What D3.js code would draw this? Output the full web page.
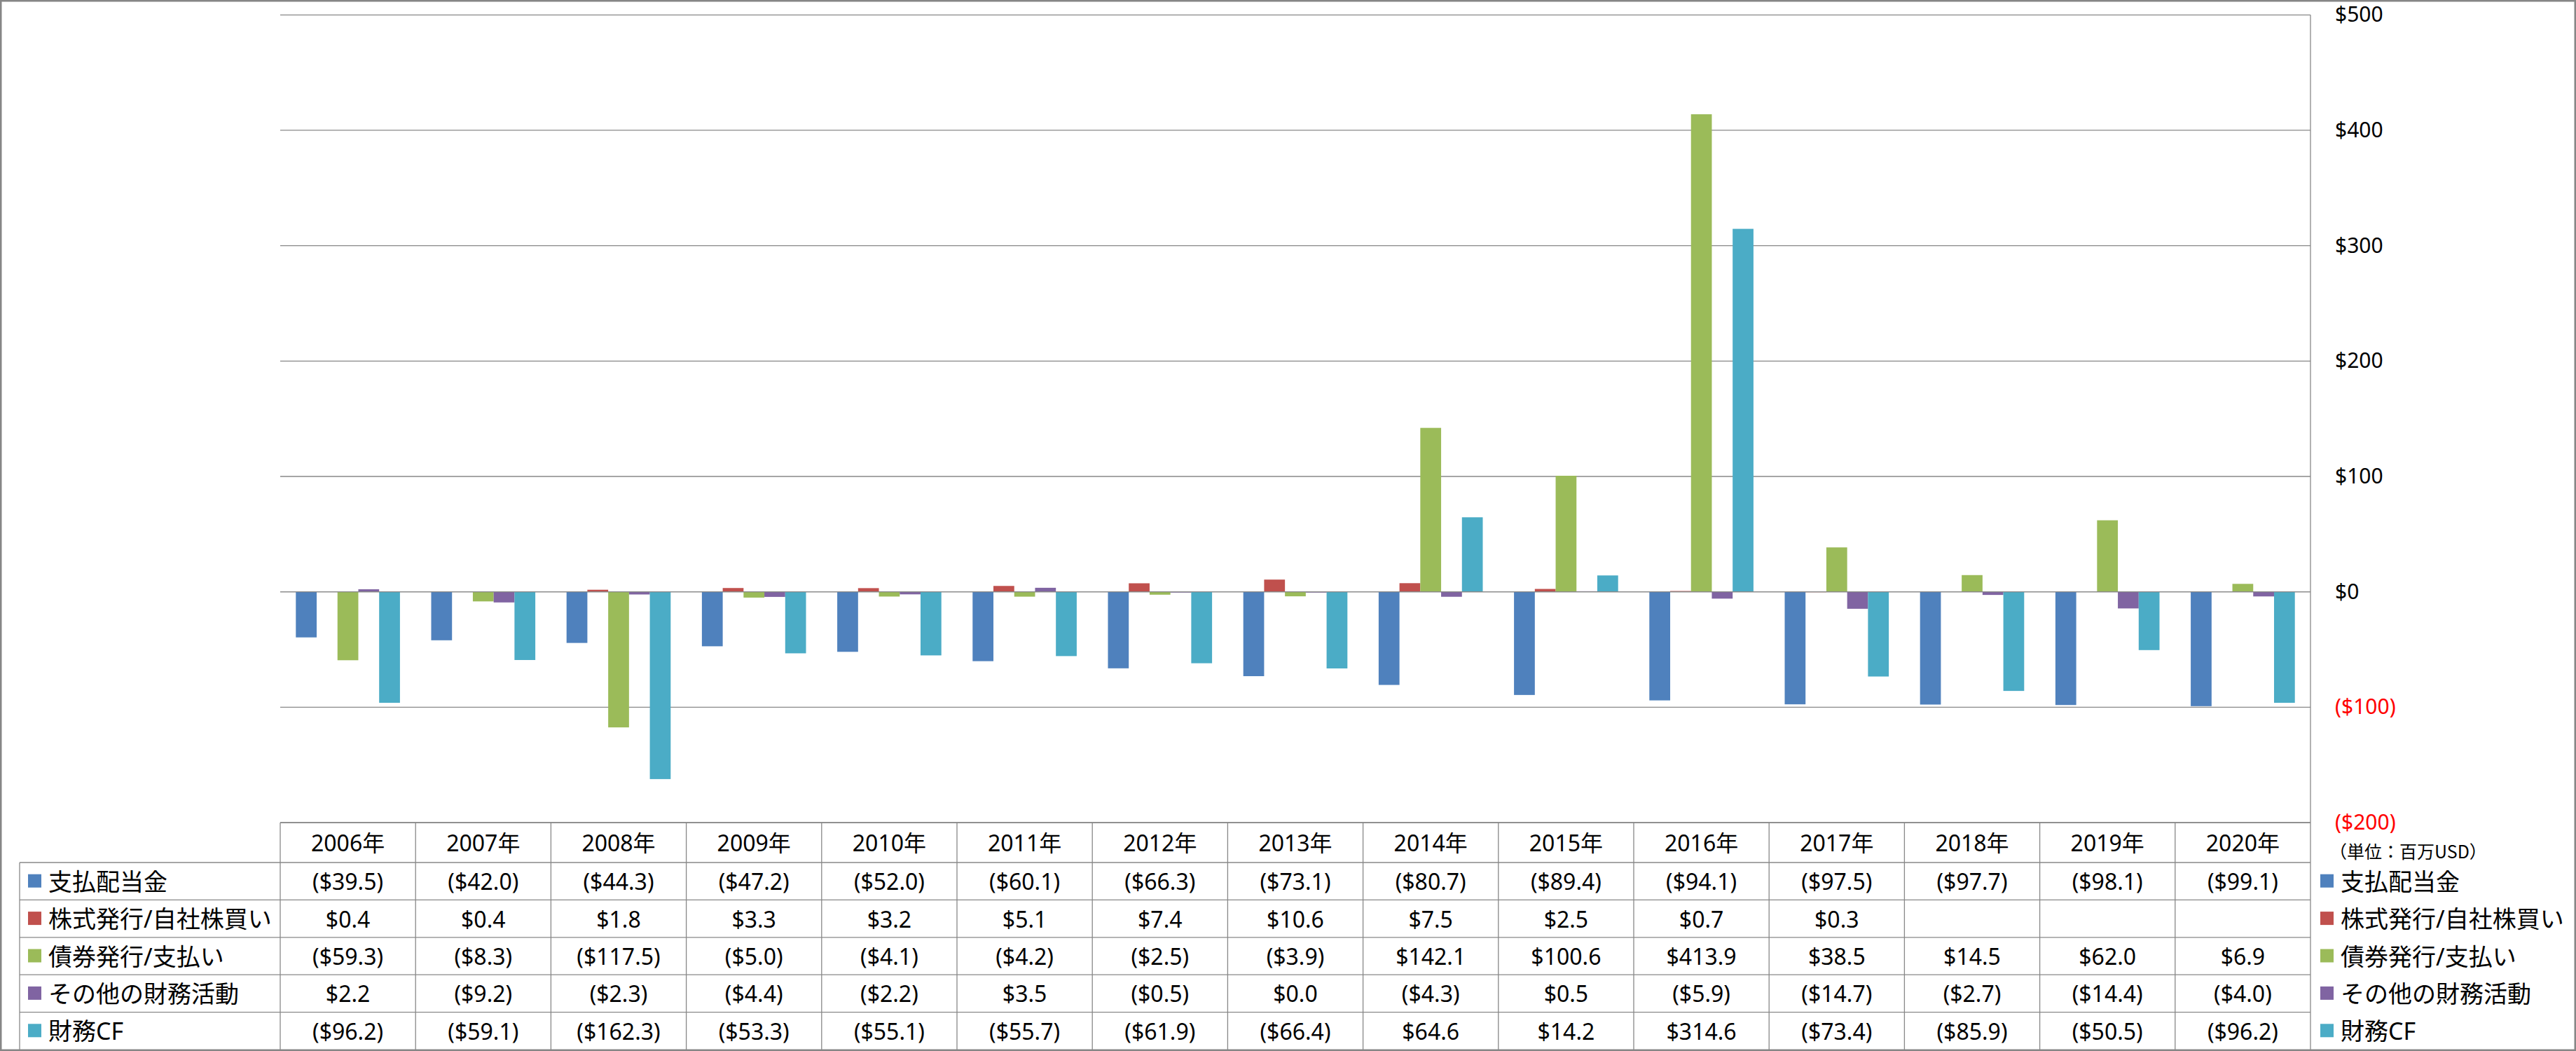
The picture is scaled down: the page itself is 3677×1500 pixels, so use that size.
<!DOCTYPE html>
<html>
<head>
<meta charset="utf-8">
<script src="https://cdn.jsdelivr.net/npm/d3@7"></script>
<style>
  body { margin: 0; background: #fff; }
  text { font-family: "Noto Sans", "Noto Sans CJK JP", sans-serif; }
</style>
</head>
<body>
<script>
const years = ["2006年","2007年","2008年","2009年","2010年","2011年","2012年","2013年","2014年","2015年","2016年","2017年","2018年","2019年","2020年"]
const seriesNames = ["支払配当金","株式発行/自社株買い","債券発行/支払い","その他の財務活動","財務CF"]
const seriesColors = ["#4F81BD","#C0504D","#9BBB59","#8064A2","#4BACC6"]
const dividends = [-39.5,-42.0,-44.3,-47.2,-52.0,-60.1,-66.3,-73.1,-80.7,-89.4,-94.1,-97.5,-97.7,-98.1,-99.1]
const stockIssue = [0.4,0.4,1.8,3.3,3.2,5.1,7.4,10.6,7.5,2.5,0.7,0.3,null,null,null]
const bondIssue = [-59.3,-8.3,-117.5,-5.0,-4.1,-4.2,-2.5,-3.9,142.1,100.6,413.9,38.5,14.5,62.0,6.9]
const otherFin = [2.2,-9.2,-2.3,-4.4,-2.2,3.5,-0.5,0.0,-4.3,0.5,-5.9,-14.7,-2.7,-14.4,-4.0]
const financingCF = [-96.2,-59.1,-162.3,-53.3,-55.1,-55.7,-61.9,-66.4,64.6,14.2,314.6,-73.4,-85.9,-50.5,-96.2]
const yTicks = [-200,-100,0,100,200,300,400,500]
const unitLabel = "（単位：百万USD）"

const seriesValues = [dividends, stockIssue, bondIssue, otherFin, financingCF]

const width = 3677
const height = 1500
const plotLeft = 400
const plotRight = 3298
const plotTop = 21.3
const plotBottom = 1174
const tableTop = 1174
const headerBottom = 1231
const rowH = 53.4
const tableLeft = 28
const lineColor = "#888888"

const fmt = v => v == null ? "" : (v < 0 ? `($${Math.abs(v).toFixed(1)})` : `$${v.toFixed(1)}`)

const svg = d3.select("body")
    .append("svg")
    .attr("width", width)
    .attr("height", height)
    .attr("viewBox", [0, 0, width, height])

const x = d3.scaleBand().domain(years).range([plotLeft, plotRight]).paddingInner(0).paddingOuter(0)
const x1 = d3.scaleBand().domain(d3.range(seriesNames.length)).range([0, x.bandwidth()]).paddingInner(0).paddingOuter(0.75)
const y = d3.scaleLinear().domain([-200, 500]).range([plotBottom, plotTop])

// gridlines
svg.append("g")
    .selectAll("line")
    .data(yTicks)
    .enter()
    .append("line")
    .attr("x1", plotLeft)
    .attr("x2", plotRight)
    .attr("y1", d => y(d))
    .attr("y2", d => y(d))
    .attr("stroke", lineColor)
    .attr("stroke-width", 1.3)

// bars
const groups = svg.append("g")
    .selectAll("g")
    .data(seriesNames.map((name, i) => ({name, i, values: seriesValues[i]})))
    .enter()
    .append("g")
    .attr("fill", d => seriesColors[d.i])

groups.selectAll("rect")
    .data(d => d.values.map((v, j) => ({v, year: years[j], s: d.i})).filter(e => e.v != null))
    .enter()
    .append("rect")
    .attr("x", d => x(d.year) + x1(d.s))
    .attr("width", x1.bandwidth())
    .attr("y", d => y(Math.max(0, d.v)))
    .attr("height", d => Math.max(1, Math.abs(y(d.v) - y(0))))

// zero axis line
svg.append("line")
    .attr("x1", plotLeft).attr("x2", plotRight)
    .attr("y1", y(0)).attr("y2", y(0))
    .attr("stroke", lineColor).attr("stroke-width", 1.3)

// right axis labels
const axis = d3.axisRight(y)
    .tickValues(yTicks)
    .tickSize(0)
    .tickPadding(35)
    .tickFormat(d => d < 0 ? `($${Math.abs(d)})` : `$${d}`)

const axisG = svg.append("g")
    .attr("transform", `translate(${plotRight},0)`)
    .call(axis)
axisG.select(".domain").remove()
axisG.attr("font-family", null).attr("font-size", null)
axisG.selectAll("text")
    .style("font-family", "'Noto Sans', sans-serif")
    .style("font-size", "30px")
    .attr("fill", d => d < 0 ? "#FF0000" : "#000000")

// data table lines
const t = svg.append("g").attr("stroke", lineColor).attr("stroke-width", 1.3)
t.append("line").attr("x1", plotLeft).attr("x2", plotRight).attr("y1", tableTop).attr("y2", tableTop)
d3.range(seriesNames.length).forEach(i => {
    const yy = headerBottom + i * rowH
    t.append("line").attr("x1", tableLeft).attr("x2", plotRight).attr("y1", yy).attr("y2", yy)
})
t.append("line").attr("x1", tableLeft).attr("x2", tableLeft).attr("y1", headerBottom).attr("y2", height)
years.forEach(yr => {
    t.append("line").attr("x1", x(yr)).attr("x2", x(yr)).attr("y1", tableTop).attr("y2", height)
})
t.append("line").attr("x1", plotRight).attr("x2", plotRight).attr("y1", plotTop).attr("y2", height)

// header
svg.append("g")
    .selectAll("text")
    .data(years)
    .enter()
    .append("text")
    .attr("x", d => x(d) + x.bandwidth() / 2)
    .attr("y", (tableTop + headerBottom) / 2)
    .attr("text-anchor", "middle")
    .attr("dominant-baseline", "central")
    .style("font-size", "32px")
    .text(d => d)

// table values
seriesNames.forEach((name, i) => {
    const cy = headerBottom + i * rowH + rowH / 2
    svg.append("g")
        .selectAll("text")
        .data(seriesValues[i].map((v, j) => ({v, year: years[j]})))
        .enter()
        .append("text")
        .attr("x", d => x(d.year) + x.bandwidth() / 2)
        .attr("y", cy)
        .attr("text-anchor", "middle")
        .attr("dominant-baseline", "central")
        .style("font-size", "32px")
        .text(d => fmt(d.v))

    // left legend keys
    svg.append("rect").attr("x", 40).attr("y", cy - 10).attr("width", 19).attr("height", 19).attr("fill", seriesColors[i])
    svg.append("text").attr("x", 69).attr("y", cy).attr("dominant-baseline", "central")
        .style("font-size", "34px").text(name)

    // right legend
    svg.append("rect").attr("x", 3312).attr("y", cy - 10).attr("width", 19).attr("height", 19).attr("fill", seriesColors[i])
    svg.append("text").attr("x", 3341).attr("y", cy).attr("dominant-baseline", "central")
        .style("font-size", "34px").text(name)
})

svg.append("text")
    .attr("x", 3325)
    .attr("y", 1214)
    .attr("dominant-baseline", "central")
    .style("font-family", "'Noto Sans CJK JP', sans-serif")
    .style("font-size", "25px")
    .text(unitLabel)

// chart border
svg.append("rect")
    .attr("x", 1.25).attr("y", 1.25)
    .attr("width", width - 2.5).attr("height", height - 2.5)
    .attr("fill", "none")
    .attr("stroke", "#868686")
    .attr("stroke-width", 2.5)
</script>
</body>
</html>
